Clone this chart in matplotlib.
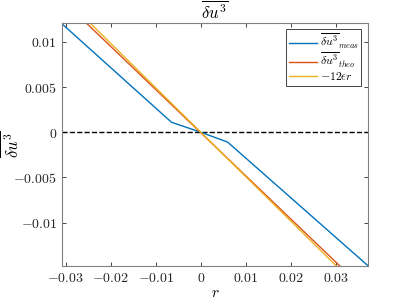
import numpy as np
import matplotlib
matplotlib.use('Agg')
import matplotlib.pyplot as plt
from matplotlib.ticker import FuncFormatter

plt.rcParams['mathtext.fontset'] = 'cm'
plt.rcParams['font.family'] = 'serif'
plt.rcParams['font.serif'] = ['DejaVu Serif']

# measured structure function (piecewise linear)
r_meas = [-0.032, -0.0065, 0.0, 0.006, 0.0375]
du3_meas = [0.0125, 0.0011, 0.0, -0.0011, -0.0149]

# theoretical
r_theo = [-0.032, 0.032]
du3_theo = [0.0152, -0.0153]

# -12 eps r
r_lin = [-0.032, 0.032]
du3_lin = [0.0157, -0.0157]

xticks = [-0.03, -0.02, -0.01, 0, 0.01, 0.02, 0.03]
yticks = [-0.01, -0.005, 0, 0.005, 0.01]

fig = plt.figure(figsize=(4.07, 3.05), dpi=100)
ax = fig.add_axes([0.152, 0.128, 0.752, 0.797])

ax.axhline(0, color='k', ls='--', lw=1)
ax.plot(r_meas, du3_meas, color='#0072BD', lw=1, label=r'$\overline{\delta u^3}_{meas}$')
ax.plot(r_theo, du3_theo, color='#D95319', lw=1, label=r'$\overline{\delta u^3}_{theo}$')
ax.plot(r_lin, du3_lin, color='#EDB120', lw=1, label=r'$-12\epsilon r$')

ax.set_xlim(-0.0309, 0.0372)
ax.set_ylim(-0.0148, 0.0121)
ax.set_xticks(xticks)
ax.set_yticks(yticks)
fmt = FuncFormatter(lambda v, p: '$%g$' % v if v != 0 else '$0$')
ax.xaxis.set_major_formatter(fmt)
ax.yaxis.set_major_formatter(fmt)

gray = '#262626'
for s in ax.spines.values():
    s.set_color('#808080')
    s.set_linewidth(0.8)
ax.tick_params(direction='in', top=True, right=True, length=3, width=0.6,
               color=gray, labelsize=10, labelcolor=gray)

ax.set_title(r'$\overline{\delta u^{3}}$', fontsize=12, color='k', pad=3)
ax.set_xlabel(r'$r$', fontsize=11, labelpad=1)
ax.set_ylabel(r'$\overline{\delta u^{3}}$', fontsize=12, labelpad=-7)

leg = ax.legend(loc='upper right', fontsize=8.5, fancybox=False, framealpha=1,
                edgecolor=gray, borderpad=0.25, labelspacing=0.0,
                handlelength=2.3, handletextpad=0.25, borderaxespad=0.55)
leg.get_frame().set_linewidth(0.6)

fig.savefig('out.png', dpi=100)
